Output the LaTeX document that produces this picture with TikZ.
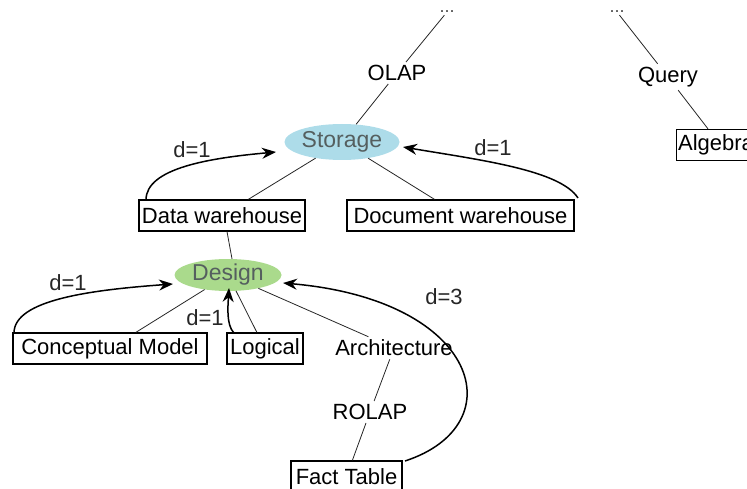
\documentclass[tikz,border=0pt]{standalone}
\usepackage{fontspec}
\setmainfont{Liberation Sans}
\usepackage{xcolor}
\definecolor{storagefill}{RGB}{173,220,233}
\definecolor{designfill}{RGB}{170,218,140}
\definecolor{topictext}{RGB}{85,95,95}
\usepackage{tikz}
\usetikzlibrary{arrows.meta,positioning,shapes.geometric}
\tikzset{
  topic/.style={ellipse,draw=none,inner sep=0pt,text=topictext,%
    font=\fontsize{23}{25}\selectfont},
  term/.style={draw=black,line width=1.3pt,inner xsep=3pt,inner ysep=0pt,%
    minimum height=31pt,font=\fontsize{22}{24}\selectfont},
  plain/.style={inner sep=3pt,font=\fontsize{22}{24}\selectfont},
  more/.style={inner sep=2pt,font=\fontsize{18}{20}\selectfont,text=black!70},
  link/.style={draw=black!85,line width=0.8pt},
  dist/.style={-{Stealth[length=14pt,width=11pt]},line width=1.5pt,draw=black},
  dlabel/.style={font=\fontsize{22}{24}\selectfont,text=black!85},
}
\begin{document}
\begin{tikzpicture}[x=1pt,y=-1pt]
\useasboundingbox (0,0) rectangle (747,489);
% upper part
\node[more] (dotsa) at (447,12) {...};
\node[more] (dotsb) at (617,12) {...};
\node[plain] (olap)  at (397,73) {OLAP};
\node[plain] (query) at (668,77) {Query};
\node[topic,fill=storagefill,minimum width=115pt,minimum height=36pt] (storage) at (342,142) {Storage};
\node[term,anchor=west,inner xsep=1.5pt] (algebra) at (676,145) {Algebra};
\node[term,minimum width=165pt] (dw)  at (222,215.5) {Data warehouse};
\node[term,minimum width=227pt] (docw) at (460.5,215.5) {Document warehouse};
% lower part
\node[topic,fill=designfill,minimum width=107pt,minimum height=32pt] (design) at (228,275) {Design};
\node[term,minimum width=194pt] (cm)  at (110,348.5) {Conceptual Model};
\node[term,minimum width=76pt]  (log) at (265,348.5) {Logical};
\node[plain] (arch)  at (394,348) {Architecture};
\node[plain] (rolap) at (370,412) {ROLAP};
\node[term,minimum width=111pt] (fact) at (346.5,476.5) {Fact Table};
% tree links
\draw[link] (dotsa) -- (olap);
\draw[link] (olap) -- (storage);
\draw[link] (dotsb) -- (query);
\draw[link] (query) -- (algebra.north west -| 708,0);
\draw[link] (storage) -- (dw);
\draw[link] (storage) -- (docw);
\draw[link] ([xshift=5pt]dw.south) -- ([xshift=4pt]design.north);
\draw[link] (design) -- (cm);
\draw[link] (design) -- (log);
\draw[link] (design) -- (arch);
\draw[link] (arch) -- (rolap);
\draw[link] (rolap) -- (fact);
% distances
\coordinate (dwl) at (146,200);
\coordinate (dwr) at (578,198);
\coordinate (cml) at (14,333);
\coordinate (logl) at (234,333);
\coordinate (factr) at (405,461);
\draw[dist] (dwl) .. controls (146,168) and (210,158) .. (276,152);
\node[dlabel] (da) at (192,150) {d=1};
\draw[dist] (dwr) .. controls (560,170) and (480,160) .. (403,147);
\node[dlabel] (db) at (493,148) {d=1};
\draw[dist] (cml) .. controls (14,300) and (90,290) .. (173,284);
\node[dlabel] (dc) at (68,283) {d=1};
\draw[dist] (logl) .. controls (226,325) and (228,305) .. (229,288);
\node[dlabel] (dd) at (205,318) {d=1};
\draw[dist] (factr) .. controls (515,425) and (480,300) .. (283,283);
\node[dlabel] (de) at (444,297) {d=3};
\end{tikzpicture}
\end{document}
